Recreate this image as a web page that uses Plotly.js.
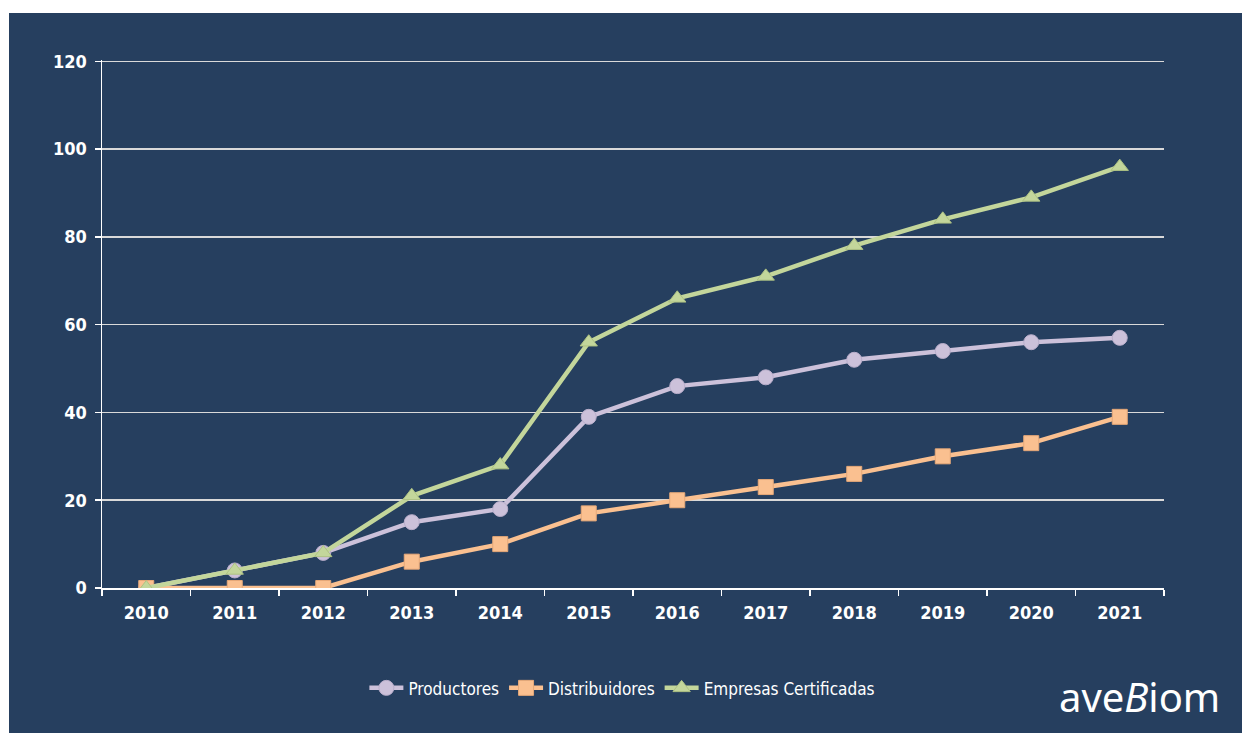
<!DOCTYPE html>
<html>
<head>
<meta charset="utf-8">
<script src="https://cdn.plot.ly/plotly-3.0.1.min.js"></script>
<style>
  html, body { margin: 0; padding: 0; background: #ffffff; width: 1242px; height: 733px; overflow: hidden; }
  #chart { position: absolute; left: 9px; top: 13px; width: 1233px; height: 720px; }
</style>
</head>
<body>
<div id="chart"></div>
<script>
const years = ['2010','2011','2012','2013','2014','2015','2016','2017','2018','2019','2020','2021'];
const productores = [0, 4, 8, 15, 18, 39, 46, 48, 52, 54, 56, 57];
const distribuidores = [0, 0, 0, 6, 10, 17, 20, 23, 26, 30, 33, 39];
const empresasCertificadas = [0, 4, 8, 21, 28, 56, 66, 71, 78, 84, 89, 96];
const yTicks = [0, 20, 40, 60, 80, 100, 120];

const FONT = '"Liberation Sans Narrow", "DejaVu Sans Condensed", "Roboto Condensed", sans-serif';
const BG = '#263f5f';

const traces = [
  {
    x: years, y: productores, name: 'Productores', type: 'scatter', mode: 'lines+markers',
    line: {color: '#ccc1da', width: 4.5},
    marker: {symbol: 'circle', size: 15, color: '#ccc1da', line: {color: '#b9aecb', width: 1}}
  },
  {
    x: years, y: distribuidores, name: 'Distribuidores', type: 'scatter', mode: 'lines+markers',
    line: {color: '#fac090', width: 4.5},
    marker: {symbol: 'square', size: 15, color: '#fac090', line: {color: '#e6a878', width: 1}}
  },
  {
    x: years, y: empresasCertificadas, name: 'Empresas Certificadas', type: 'scatter', mode: 'lines+markers',
    line: {color: '#c3d69b', width: 4.5},
    marker: {symbol: 'triangle-up', size: 15, color: '#c3d69b', line: {color: '#aec283', width: 1}}
  }
];

const layout = {
  width: 1233, height: 720,
  paper_bgcolor: BG, plot_bgcolor: BG,
  margin: {l: 93, r: 78, t: 47, b: 145},
  font: {family: FONT, color: '#ffffff'},
  showlegend: true,
  legend: {
    orientation: 'h', x: 0.49, xanchor: 'center', y: -0.19, yanchor: 'middle',
    font: {family: FONT, size: 17, color: '#ffffff'},
    itemwidth: 34, tracegroupgap: 0
  },
  xaxis: {
    type: 'category', tickson: 'boundaries', ticks: 'outside', ticklen: 6, tickwidth: 1.5,
    tickcolor: '#ffffff', showline: true, linecolor: '#ffffff', linewidth: 1.5,
    showgrid: false, zeroline: false,
    tickfont: {family: FONT, size: 18, color: '#ffffff', weight: 'bold'},
    ticklabelstandoff: 8,
    range: [-0.5, 11.5], fixedrange: true
  },
  yaxis: {
    range: [0, 120.3], tickvals: yTicks, ticktext: yTicks.map(String),
    ticks: 'outside', ticklen: 6, tickwidth: 1.5, tickcolor: '#ffffff',
    showline: true, linecolor: '#ffffff', linewidth: 1.5,
    showgrid: true, gridcolor: '#d9d9d9', gridwidth: 1.5, zeroline: false,
    tickfont: {family: FONT, size: 18, color: '#ffffff', weight: 'bold'},
    ticklabelstandoff: 4
  },
  annotations: [
    {
      xref: 'paper', yref: 'paper', x: 1.055, y: -0.205, xanchor: 'right', yanchor: 'middle',
      text: 'ave<i>B</i>iom', showarrow: false,
      font: {family: '"Noto Sans", "DejaVu Sans", sans-serif', size: 40, color: '#ffffff'}
    }
  ]
};

Plotly.newPlot('chart', traces, layout, {displayModeBar: false, staticPlot: true});
</script>
</body>
</html>
